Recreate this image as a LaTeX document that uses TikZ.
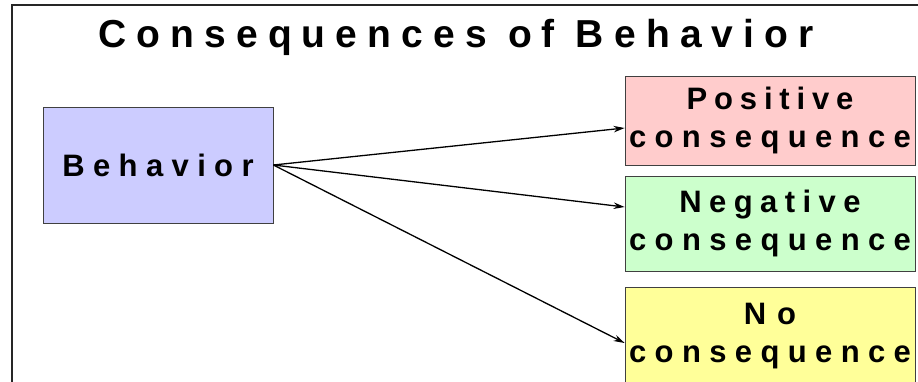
\documentclass[tikz,border=0pt]{standalone}
\usepackage{fontspec}
\setmainfont{Liberation Sans}
\usetikzlibrary{arrows.meta}
\newcommand{\spc}[2]{{\addfontfeature{LetterSpace=#1}#2}}
\definecolor{behfill}{HTML}{CCCCFF}
\definecolor{posfill}{HTML}{FFCCCC}
\definecolor{negfill}{HTML}{CCFFCC}
\definecolor{nofill}{HTML}{FFFF99}
\tikzset{
  cbox/.style={draw=black!75, line width=0.8pt, minimum width=290pt, align=center, inner sep=0pt,
    font=\fontsize{31}{38}\selectfont\bfseries},
  conn/.style={line width=1.3pt, -{Stealth[length=11pt,width=6.5pt]}},
  frame/.style={line width=1.3pt, draw=black!85}
}
\begin{document}
\begin{tikzpicture}[x=1pt,y=-1pt]
\useasboundingbox (0,0) rectangle (918,381);
\clip (0,0) rectangle (918,381);
\fill[white] (0,0) rectangle (918,381);
\draw[frame] (12,400) -- (12,5) -- (930,5);
\node[anchor=base, font=\fontsize{39}{46}\selectfont\bfseries] (title) at (456,47) {\spc{26}{Consequences of Behavior}};
\node[draw=black!75, line width=0.8pt, fill=behfill, minimum width=230pt, minimum height=116pt, inner sep=0pt,
  font=\fontsize{31}{38}\selectfont\bfseries] (beh) at (158,165) {\spc{27}{Behavior}};
\node[cbox, fill=posfill, minimum height=89pt] (pos) at (770,120.5) {\spc{22}{Positive}\\\spc{27}{consequence}};
\node[cbox, fill=negfill, minimum height=95pt] (neg) at (770,223.5) {\spc{24}{Negative}\\\spc{27}{consequence}};
\node[cbox, fill=nofill, minimum height=99pt] (no) at (770,336.5) {\spc{35}{No}\\\spc{27}{consequence}};
\draw[conn] (beh.east) -- ([yshift=-7.5pt]pos.west);
\draw[conn] (beh.east) -- ([yshift=16.5pt]neg.west);
\draw[conn] (beh.east) -- ([yshift=-6.5pt]no.west);
\end{tikzpicture}
\end{document}
